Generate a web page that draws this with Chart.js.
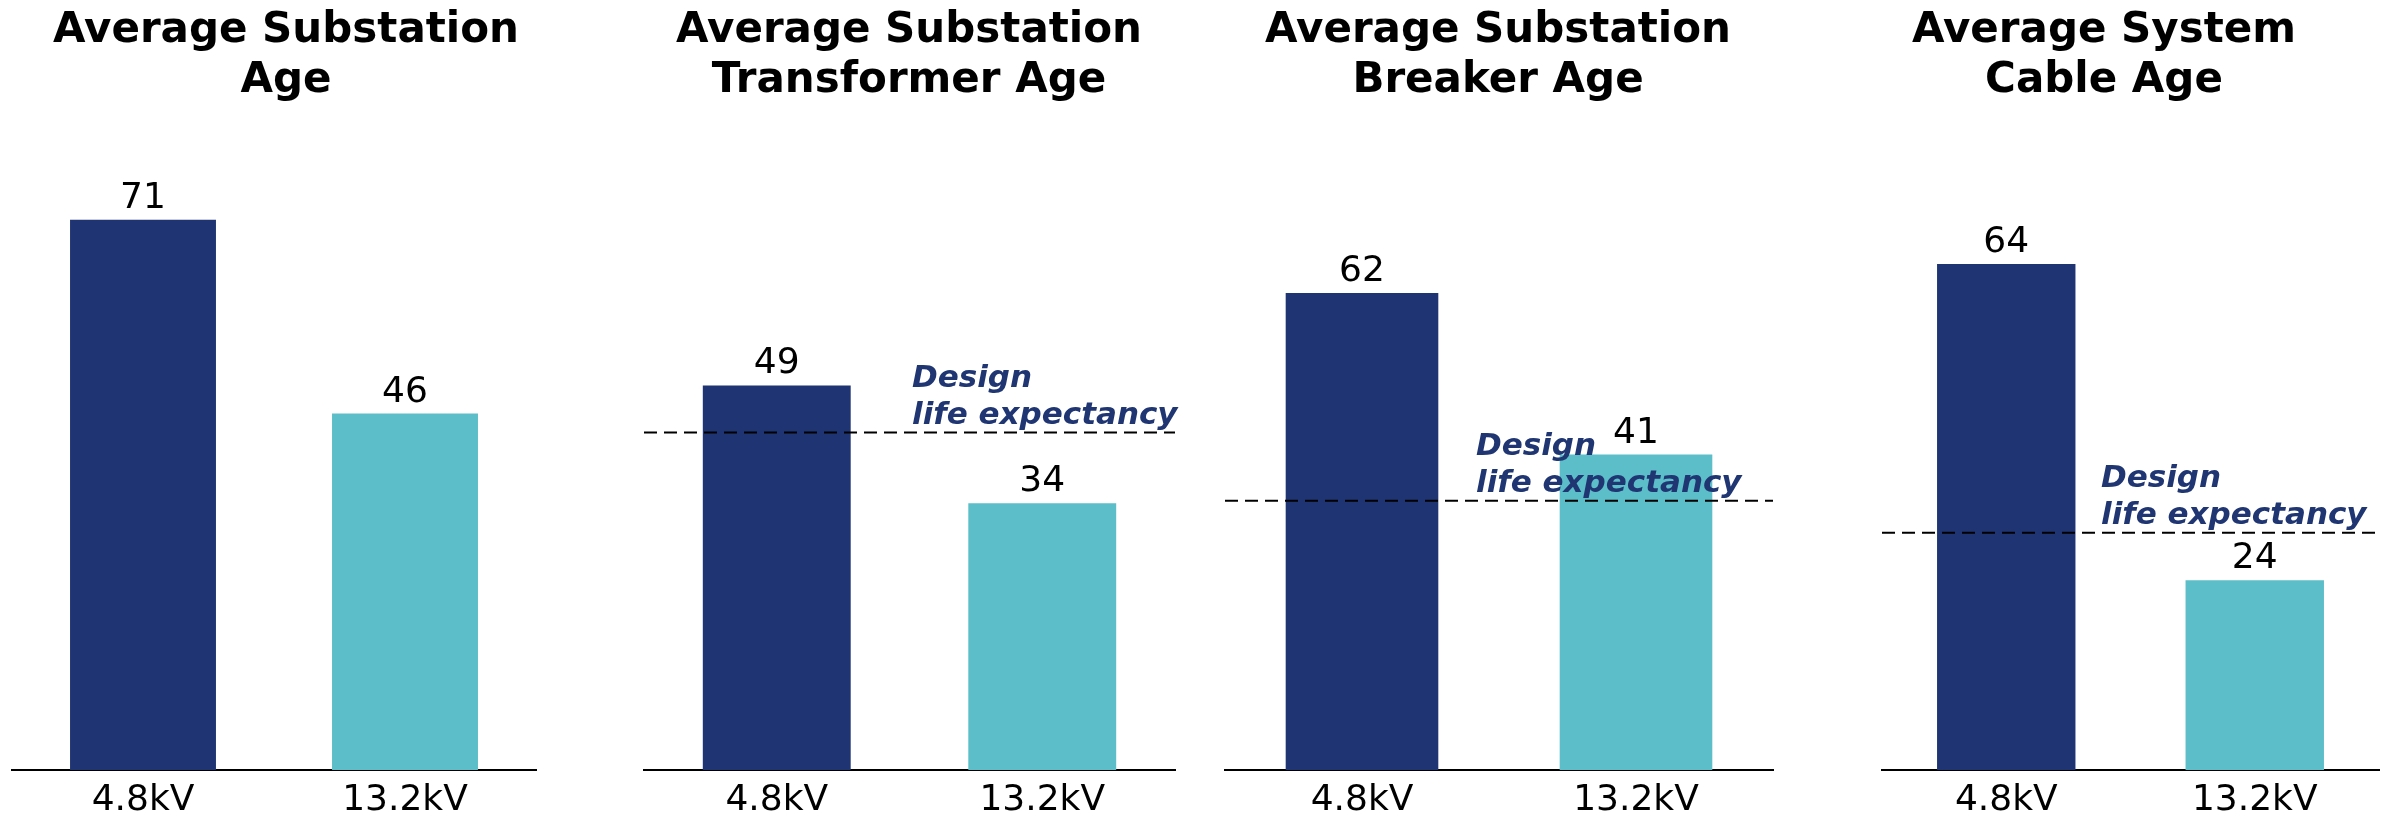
<!DOCTYPE html>
<html>
<head>
<meta charset="utf-8">
<script src="https://cdn.jsdelivr.net/npm/chart.js@4.4.1/dist/chart.umd.min.js"></script>
<style>
    body { margin: 0; background: #fff; }
    #wrap { position: relative; width: 2389px; height: 822px; overflow: hidden; }
    .painel { position: absolute; top: 0; height: 822px; }
</style>
</head>
<body>
<div id="wrap"></div>
<script>
var titulos = [
    ['Average Substation', 'Age'],
    ['Average Substation', 'Transformer Age'],
    ['Average Substation', 'Breaker Age'],
    ['Average System', 'Cable Age']
];
var categorias = ['4.8kV', '13.2kV'];
var idade_48kv = [71, 49, 62, 64];
var idade_132kv = [46, 34, 41, 24];
var vida_projeto = [null, 43, 35, 30];
var eixo_max = [80, 79, 80.6, 78.4];
var nota_linhas = ['Design', 'life expectancy'];

// layout de cada painel (px): esquerda, largura, folga esq., folga dir., x da nota
var paineis = [
    { left: 0, width: 572, gl: 12, gr: 36, notaX: 0 },
    { left: 600, width: 618, gl: 44, gr: 43, notaX: 268 },
    { left: 1200, width: 596, gl: 25, gr: 23, notaX: 251 },
    { left: 1819, width: 570, gl: 63, gr: 10, notaX: 219 }
];

var cor_escura = '#1F3573';
var cor_clara = '#5BBEC9';
var fonte = "'DejaVu Sans', Verdana, sans-serif";

var rotulos = {
    id: 'rotulos',
    afterDatasetsDraw: function(chart, args, opts) {
        var ctx = chart.ctx;
        var area = chart.chartArea;
        var meta = chart.getDatasetMeta(0);
        ctx.save();
        ctx.fillStyle = '#000';
        ctx.font = '36px ' + fonte;
        ctx.textAlign = 'center';
        ctx.textBaseline = 'alphabetic';
        meta.data.forEach(function(bar, i) {
            ctx.fillText(chart.data.datasets[0].data[i], bar.x, bar.y - 12);
        });

        if (opts.vida != null) {
            var y = chart.scales.y.getPixelForValue(opts.vida);
            ctx.strokeStyle = '#000';
            ctx.lineWidth = 2;
            ctx.setLineDash([13, 7]);
            ctx.beginPath();
            ctx.moveTo(area.left, y);
            ctx.lineTo(area.right, y);
            ctx.stroke();
            ctx.setLineDash([]);

            ctx.fillStyle = '#1F3673';
            ctx.font = 'italic bold 31px ' + fonte;
            ctx.textAlign = 'left';
            ctx.fillText(nota_linhas[0], area.left + opts.notaX, y - 46);
            ctx.fillText(nota_linhas[1], area.left + opts.notaX, y - 9);
        }
        ctx.restore();
    }
};

function eixo_fantasma(pos, largura) {
    return {
        display: true,
        position: pos,
        min: 0,
        ticks: { display: false },
        grid: { display: false, drawTicks: false },
        border: { display: false },
        afterFit: function(scale) {
            scale.width = largura;
        }
    };
}

function grafico(i) {
    var p = paineis[i];
    var div = document.createElement('div');
    div.className = 'painel';
    div.style.left = p.left + 'px';
    div.style.width = p.width + 'px';
    var canvas = document.createElement('canvas');
    div.appendChild(canvas);
    document.getElementById('wrap').appendChild(div);

    var y = eixo_fantasma('left', p.gl);
    y.max = eixo_max[i];

    new Chart(canvas.getContext('2d'), {
        type: 'bar',
        data: {
            labels: categorias,
            datasets: [{
                data: [idade_48kv[i], idade_132kv[i]],
                backgroundColor: [cor_escura, cor_clara],
                borderWidth: 0,
                barPercentage: 0.557,
                categoryPercentage: 1
            }]
        },
        options: {
            responsive: true,
            maintainAspectRatio: false,
            animation: false,
            devicePixelRatio: 1,
            layout: { padding: 0 },
            scales: {
                x: {
                    grid: { display: false, drawTicks: false, tickLength: 0 },
                    border: { display: true, color: '#000', width: 2 },
                    ticks: {
                        color: '#000',
                        padding: 9,
                        font: { family: fonte, size: 36 }
                    },
                    afterFit: function(scale) {
                        scale.height = 52;
                    }
                },
                y: y,
                y2: eixo_fantasma('right', p.gr)
            },
            plugins: {
                legend: { display: false },
                tooltip: { enabled: false },
                title: {
                    display: true,
                    text: titulos[i],
                    color: '#000',
                    font: { family: fonte, size: 42, weight: 'bold', lineHeight: '50px' },
                    padding: { top: 6, bottom: 44 }
                },
                rotulos: { vida: vida_projeto[i], notaX: p.notaX }
            }
        },
        plugins: [rotulos]
    });
}

for (var i = 0; i < titulos.length; i++) {
    grafico(i);
}
</script>
</body>
</html>
